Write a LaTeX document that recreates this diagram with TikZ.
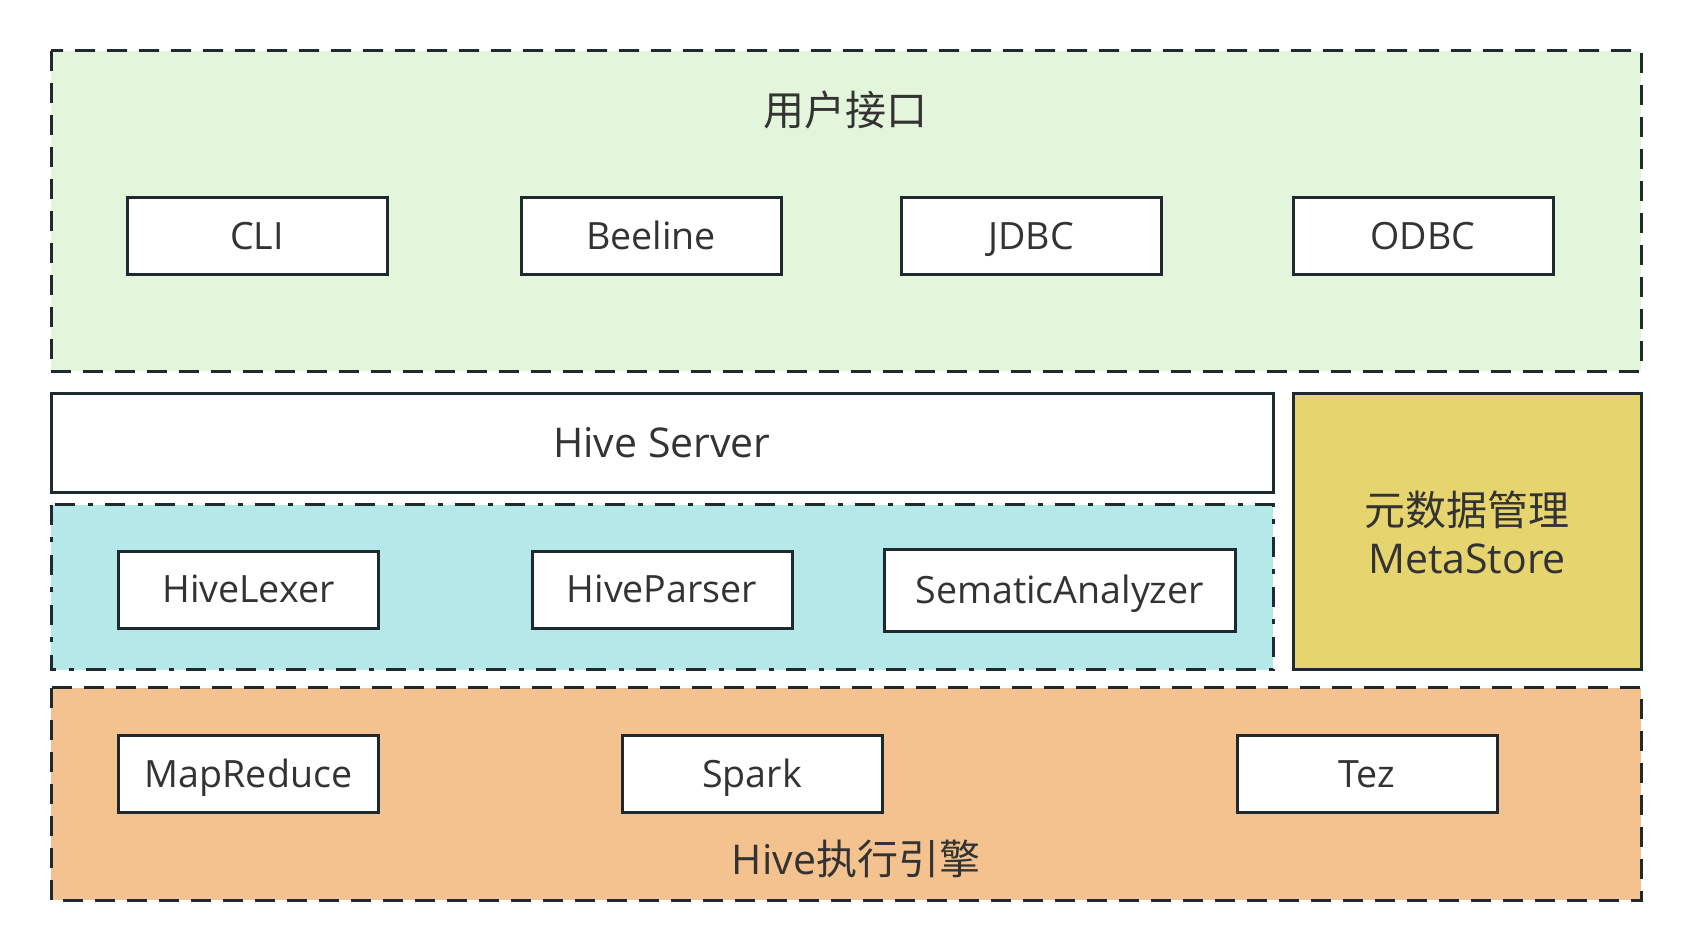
\documentclass[tikz,border=0pt]{standalone}
\usepackage{fontspec}
\setmainfont{Open Sans}
\newfontfamily\cjk{Noto Sans CJK SC}
\definecolor{edge}{HTML}{1F2A30}
\definecolor{ink}{HTML}{333333}
\definecolor{userbg}{HTML}{E3F5DB}
\definecolor{parsebg}{HTML}{B5E9E9}
\definecolor{metabg}{HTML}{E6D46E}
\definecolor{enginebg}{HTML}{F4C28F}
\begin{document}
\begin{tikzpicture}[x=0.5pt,y=-0.5pt,
  layer/.style={draw=edge,line width=1.5pt,dash pattern=on 10pt off 6pt},
  dashdot/.style={draw=edge,line width=1.5pt,dash pattern=on 10pt off 6.25pt on 2.5pt off 6.25pt},
  solid box/.style={draw=edge,line width=1.5pt},
  box/.style={draw=edge,line width=1.5pt,fill=white,minimum width=130pt,minimum height=38.5pt,
    inner sep=0pt,text height=13.4pt,text depth=0pt,text=ink,font=\fontsize{18.8pt}{22pt}\selectfont},
  title/.style={text=ink,inner sep=0pt,text height=14.6pt,text depth=0pt,font=\fontsize{20.5pt}{24pt}\selectfont}]
\useasboundingbox (0,0) rectangle (1692,952);

\fill [userbg] (51,51) rectangle (1641,371);
\draw [layer] (51,51) rectangle (1641,371);
\node [title] (user) at (845,111) {\cjk 用户接口};
\foreach \name/\x/\txt in {cli/257/CLI, beeline/651/Beeline, jdbc/1031/JDBC, odbc/1423/ODBC}
   \node [box] (\name) at (\x,236) {\txt};

\draw [solid box,fill=white] (51,393.5) rectangle (1273,492.5);
\node [title] (server) at (662,443) {Hive Server};

\fill [parsebg] (51,504.5) rectangle (1273,669.5);
\draw [dashdot] (51,504.5) rectangle (1273,669.5);
\node [box] (lexer) at (248.5,589.5) {HiveLexer};
\node [box] (parser) at (662,589.5) {HiveParser};
\node [box,minimum width=175.5pt,minimum height=41pt] (analyzer) at (1059.7,590) {SematicAnalyzer};

\draw [solid box,fill=metabg] (1293.5,393.5) rectangle (1641,669.5);
\node [text=ink,inner sep=0pt,align=center,font=\fontsize{20.5pt}{24pt}\selectfont] (meta) at (1467,532) {{\cjk 元数据管理}\\MetaStore};

\fill [enginebg] (51,687.5) rectangle (1641,900);
\draw [layer] (51,687.5) rectangle (1641,900);
\foreach \name/\x/\txt in {mapreduce/248.5/MapReduce, spark/752/Spark, tez/1367/Tez}
   \node [box] (\name) at (\x,774) {\txt};
\node [title] (engine) at (856,860) {Hive{\cjk 执行引擎}};
\end{tikzpicture}
\end{document}
